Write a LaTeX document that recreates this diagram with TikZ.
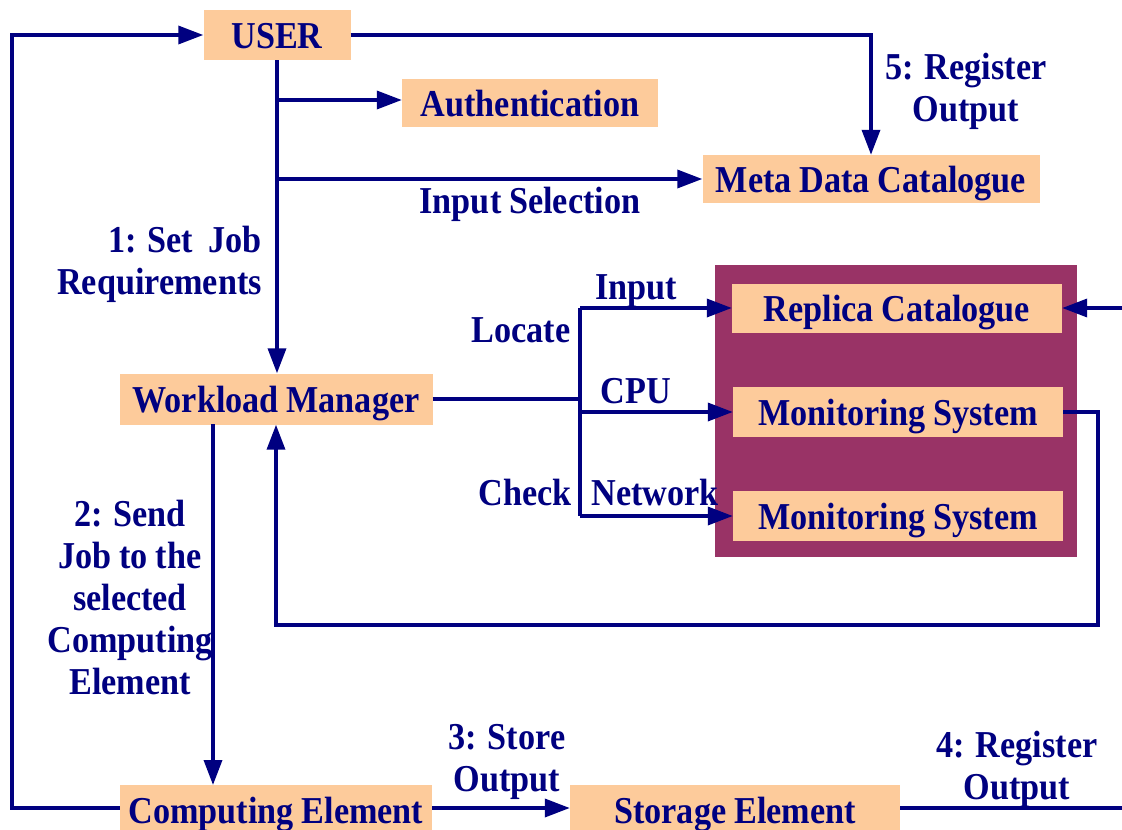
\documentclass[tikz,border=0pt]{standalone}
\usepackage{fontspec}
\setmainfont{Liberation Serif}[FakeStretch=0.9, WordSpace=0.92]
\usetikzlibrary{arrows.meta}
\definecolor{navy}{HTML}{000080}
\definecolor{peach}{HTML}{FDCB9B}
\definecolor{plum}{HTML}{993366}
\tikzset{
  box/.style={fill=peach, draw=none, text=navy, inner sep=0pt, minimum height=49pt,
              text height=30pt, text depth=4pt,
              font=\fontsize{38}{42}\selectfont\bfseries},
  lbl/.style={text=navy, inner sep=0pt, font=\fontsize{38}{42}\selectfont\bfseries},
  wire/.style={draw=navy, line width=3.5pt},
  arr/.style={wire, -{Triangle[length=25pt,width=18pt]}},
}
\begin{document}
\begin{tikzpicture}[x=1pt,y=-1pt]
\useasboundingbox (0,0) rectangle (1122,830);
\fill[white] (0,0) rectangle (1122,830);
% purple container
\fill[plum] (715,265) rectangle (1077,557);
% boxes
\node[box, minimum width=147pt, minimum height=50pt] (user) at (277,35) {USER};
\node[box, minimum width=256pt, minimum height=48pt] (auth) at (530,103) {Authentication};
\node[box, minimum width=337pt, minimum height=48pt] (meta) at (871,179) {Meta Data Catalogue};
\node[box, minimum width=313pt, minimum height=51pt] (wm) at (276,399) {Workload Manager};
\node[box, minimum width=330pt] (rc) at (897,308) {Replica Catalogue};
\node[box, minimum width=330pt, minimum height=50pt] (ms1) at (898,412) {Monitoring System};
\node[box, minimum width=330pt, minimum height=50pt] (ms2) at (898,516) {Monitoring System};
\node[box, minimum width=312pt, minimum height=50pt] (ce) at (276,810) {Computing Element};
\node[box, minimum width=330pt, minimum height=50pt] (se) at (735,810) {Storage Element};
% helper coordinates
\coordinate (loopL) at (12,808);
\coordinate (b1) at (277,100);
\coordinate (b2) at (277,179);
\coordinate (j) at (580,399);
\coordinate (fbR) at (1098,625);
\coordinate (rin) at (1122,308);
\coordinate (sout) at (1122,808);
\coordinate (ceTop) at (213,785);
\coordinate (wmBot) at (213,424);
% connectors
\draw[arr] (ce.west |- loopL) -- (loopL) |- (user.west);
\draw[arr] (user.east) -| (meta.north);
\draw[arr] (user.south) -- (user.south |- wm.north);
\draw[arr] (b1) -- (b1 -| auth.west);
\draw[arr] (b2) -- (meta.west);
\draw[wire] (wm.east) -- (j);
\draw[wire] (j |- rc.west) -- (j |- ms2.west);
\draw[arr] (j |- rc.west) -- (rc.west);
\draw[arr] (j |- ms1.west) -- (ms1.west);
\draw[arr] (j |- ms2.west) -- (ms2.west);
\draw[arr] (ms1.east) -| (fbR) -| (wm.south);
\draw[arr] (rin) -- (rc.east);
\draw[arr] (wmBot) -- (ceTop);
\draw[arr] (ce.east |- loopL) -- (se.west |- loopL);
\draw[wire] (se.east |- sout) -- (sout);
% labels
\node[lbl, align=center] (l5) at (966,91) {5: Register\\Output};
\node[lbl, anchor=base] (lis) at (530,213) {Input Selection};
\node[lbl, align=right, anchor=east] (l1) at (262,264) {1: Set\ \ Job\\Requirements};
\node[lbl, anchor=base] (lloc) at (521,342) {Locate};
\node[lbl, anchor=base] (linp) at (636,299) {Input};
\node[lbl, anchor=base] (lcpu) at (636,403) {CPU};
\node[lbl, anchor=base] (lchk) at (525,505) {Check};
\node[lbl, anchor=base] (lnet) at (655,505) {Network};
\node[lbl, align=center] (l2) at (130,597) {2: Send\\Job to the\\selected\\Computing\\Element};
\node[lbl, align=center] (l3) at (507,762) {3: Store\\Output};
\node[lbl, align=center] (l4) at (1017,769) {4: Register\\Output};
\end{tikzpicture}
\end{document}
